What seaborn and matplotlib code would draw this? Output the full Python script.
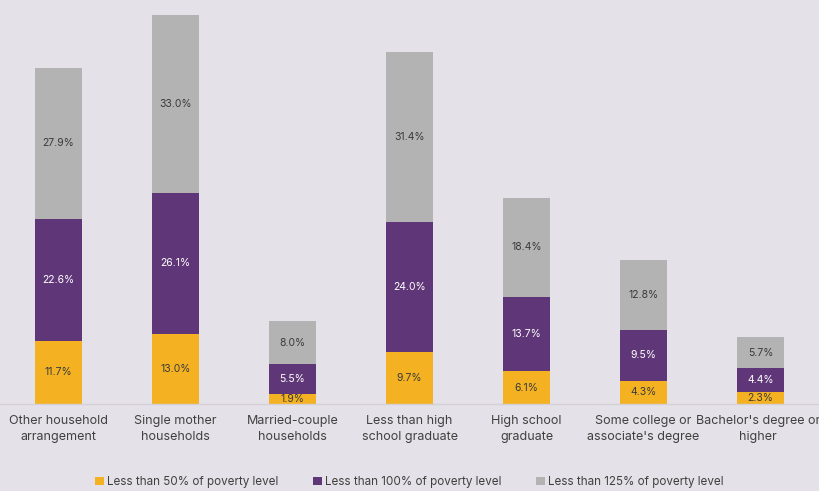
import matplotlib
matplotlib.use("Agg")
import matplotlib.pyplot as plt
import matplotlib.transforms as mtransforms
import seaborn as sns
import numpy as np

categories = [
    "Other household\narrangement",
    "Single mother\nhouseholds",
    "Married-couple\nhouseholds",
    "Less than high\nschool graduate",
    "High school\ngraduate",
    "Some college or\nassociate's degree",
    "Bachelor's degree or\nhigher",
]
below_50 = [11.7, 13.0, 1.9, 9.7, 6.1, 4.3, 2.3]
below_100 = [22.6, 26.1, 5.5, 24.0, 13.7, 9.5, 4.4]
below_125 = [27.9, 33.0, 8.0, 31.4, 18.4, 12.8, 5.7]
series_names = [
    "Less than 50% of poverty level",
    "Less than 100% of poverty level",
    "Less than 125% of poverty level",
]
colors = ["#f4b223", "#5f3677", "#b3b3b3"]
text_colors = ["#3a3a3a", "#ffffff", "#3a3a3a"]

bg = "#e5e1e8"
sns.set_theme(style="white", rc={"axes.facecolor": bg, "figure.facecolor": bg})
plt.rcParams["font.family"] = ["Inter", "DejaVu Sans"]

fig = plt.figure(figsize=(8.19, 4.91), dpi=100)
ax = fig.add_axes([0, 0.177, 1, 0.823])

# stacked segments, each labelled with its own share
series = [below_50, below_100, below_125]
bottoms = np.zeros(len(categories))
for vals, name, col, tcol in zip(series, series_names, colors, text_colors):
    ax.bar(np.arange(len(categories)), vals, bottom=bottoms, width=0.4,
           color=col, label=name, edgecolor="none")
    for i, v in enumerate(vals):
        ax.text(i, bottoms[i] + v / 2, f"{v:.1f}%", ha="center", va="center",
                fontsize=7.5, color=tcol)
    bottoms = bottoms + np.array(vals)

ax.set_xlim(-0.5, len(categories) - 0.5)
ax.set_ylim(0, 74.8)
ax.set_xticks(np.arange(len(categories)))
ax.set_xticklabels(categories, fontsize=9, color="#404040", linespacing=1.45)
ax.tick_params(axis="x", length=0, pad=8)
# nudge the rightmost label so it stays inside the canvas
last = ax.get_xticklabels()[-1]
last.set_transform(last.get_transform() +
                   mtransforms.ScaledTranslation(-2 / 72, 0, fig.dpi_scale_trans))
ax.set_yticks([])
for s in ["top", "right", "left"]:
    ax.spines[s].set_visible(False)
ax.spines["bottom"].set_color("#d4d0d6")
ax.spines["bottom"].set_linewidth(1)

handles, labels = ax.get_legend_handles_labels()
fig.legend(handles, labels, loc="lower center", bbox_to_anchor=(0.5, -0.016),
           ncol=3, frameon=False, fontsize=8.4, handlelength=0.7,
           handleheight=0.7, handletextpad=0.3, columnspacing=3.0,
           labelcolor="#404040")

fig.savefig("out.png", dpi=100, facecolor=bg)
